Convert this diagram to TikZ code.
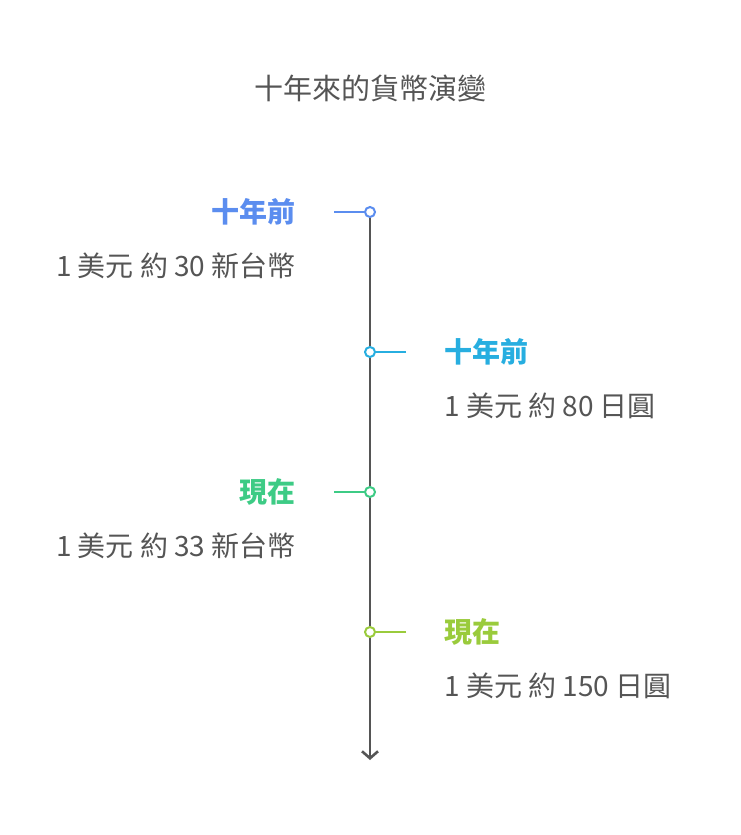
\documentclass[tikz,border=0pt]{standalone}
\usepackage{fontspec}
\setmainfont{Noto Sans CJK TC}
\usetikzlibrary{arrows.meta}
\definecolor{cA}{HTML}{5B8DEF}
\definecolor{cB}{HTML}{27AEE0}
\definecolor{cC}{HTML}{3DCB85}
\definecolor{cD}{HTML}{9ACB3C}
\definecolor{txt}{HTML}{555555}
\begin{document}
\begin{tikzpicture}[x=1pt,y=-1pt,
  body/.style={font=\fontsize{28}{32}\selectfont, text=txt, inner sep=0},
  head/.style={font=\fontsize{28}{32}\selectfont\bfseries, inner sep=0},
  dot/.style={circle, draw=#1, fill=white, line width=2pt, minimum size=10pt, inner sep=0}]
\useasboundingbox (0,0) rectangle (740,835);
\node[font=\fontsize{29}{34}\selectfont, text=txt] (title) at (370,88) {十年來的貨幣演變};
\coordinate (top) at (370,212);
\coordinate (bot) at (370,760);
\draw[line width=2.6pt, draw=txt, -{Straight Barb[length=7pt,width=16pt]}] (top) -- (bot);
\coordinate (m1) at (370,212); \coordinate (m2) at (370,352);
\coordinate (m3) at (370,492); \coordinate (m4) at (370,632);
\coordinate (t1) at (334,212); \coordinate (t2) at (406,352);
\coordinate (t3) at (334,492); \coordinate (t4) at (406,632);
\draw[cA, line width=2.6pt] (t1) -- (m1);
\draw[cB, line width=2.6pt] (t2) -- (m2);
\draw[cC, line width=2.6pt] (t3) -- (m3);
\draw[cD, line width=2.6pt] (t4) -- (m4);
\node[dot=cA] (d1) at (m1) {};
\node[dot=cB] (d2) at (m2) {};
\node[dot=cC] (d3) at (m3) {};
\node[dot=cD] (d4) at (m4) {};
\node[head, text=cA, anchor=east] (h1) at (296,212) {十年前};
\node[body, anchor=east] (b1) at (296,266) {1 美元 約 30 新台幣};
\node[head, text=cB, anchor=west] (h2) at (444,352) {十年前};
\node[body, anchor=west] (b2) at (444,406) {1 美元 約 80 日圓};
\node[head, text=cC, anchor=east] (h3) at (296,492) {現在};
\node[body, anchor=east] (b3) at (296,546) {1 美元 約 33 新台幣};
\node[head, text=cD, anchor=west] (h4) at (444,632) {現在};
\node[body, anchor=west] (b4) at (444,686) {1 美元 約 150 日圓};
\end{tikzpicture}
\end{document}
